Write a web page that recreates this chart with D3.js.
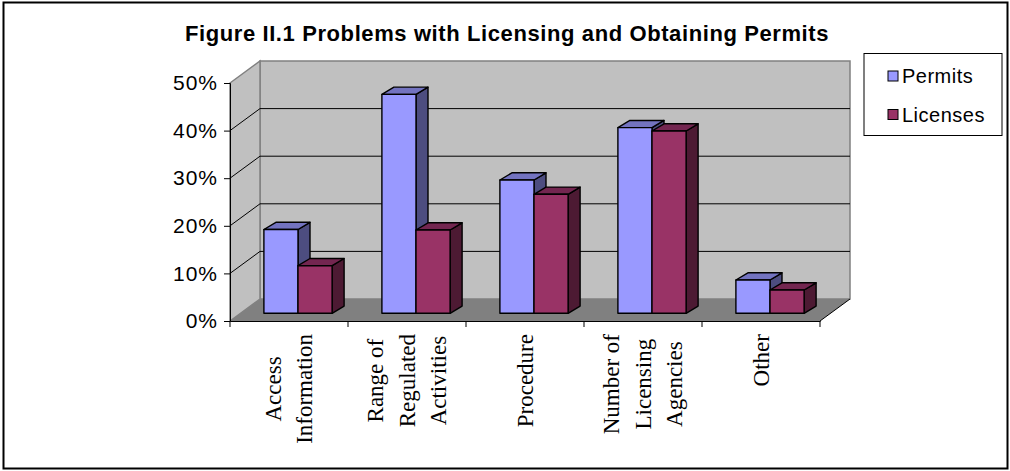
<!DOCTYPE html>
<html>
<head>
<meta charset="utf-8">
<script src="https://cdn.jsdelivr.net/npm/d3@7/dist/d3.min.js"></script>
<style>
  html, body { margin: 0; padding: 0; background: #fff; }
  svg { display: block; }
</style>
</head>
<body>
<svg id="chart" width="1010" height="471"></svg>
<script>
// ---- Data ----
const title = "Figure II.1 Problems with Licensing and Obtaining Permits";
const categories = ["Access Information", "Range of Regulated Activities", "Procedure", "Number of Licensing Agencies", "Other"];
const categoryLines = [["Access", "Information"], ["Range of", "Regulated", "Activities"], ["Procedure"], ["Number of", "Licensing", "Agencies"], ["Other"]];
const seriesNames = ["Permits", "Licenses"];
const permits = [0.176, 0.46, 0.28, 0.39, 0.07];
const licenses = [0.10, 0.175, 0.25, 0.383, 0.049];
const yTicks = [0, 0.1, 0.2, 0.3, 0.4, 0.5];

// ---- Layout ----
const svg = d3.select("#chart");
const plotLeft = 230, plotRight = 820, plotBase = 321, plotTop = 83;
const depthX = 30, depthY = -22;          // wall depth
const barOffX = 9, barOffY = -7.7;        // bar front plane offset
const barDX = 12, barDY = -7.2;           // bar depth

const x = d3.scaleBand().domain(categories).range([plotLeft, plotRight]);
const y = d3.scaleLinear().domain([0, 0.5]).range([plotBase, plotTop]);
const fmt = d3.format(".0%");

const colors = {
  Permits: { front: "#9999ff", side: "#4d4d80", top: "#7373c0" },
  Licenses: { front: "#993366", side: "#4d1a33", top: "#732650" }
};

// Outer frame
svg.append("rect").attr("x", 3.5).attr("y", 2.5).attr("width", 1004).attr("height", 466)
  .attr("fill", "#fff").attr("stroke", "#000").attr("stroke-width", 2);

// Title
svg.append("text").attr("x", 507).attr("y", 41).attr("text-anchor", "middle")
  .attr("font-family", "Liberation Sans, Arial, sans-serif").attr("font-weight", "bold")
  .attr("font-size", 22).attr("letter-spacing", "0.6px").attr("fill", "#000").text(title);

const pts = a => a.map(p => p.join(",")).join(" ");

// Back wall
svg.append("polygon")
  .attr("points", pts([[plotLeft + depthX, y(0.5) + depthY], [plotRight + depthX, y(0.5) + depthY], [plotRight + depthX, y(0) + depthY], [plotLeft + depthX, y(0) + depthY]]))
  .attr("fill", "#c0c0c0").attr("stroke", "#808080").attr("stroke-width", 1.5);
// Left wall
svg.append("polygon")
  .attr("points", pts([[plotLeft, y(0.5)], [plotLeft + depthX, y(0.5) + depthY], [plotLeft + depthX, y(0) + depthY], [plotLeft, y(0)]]))
  .attr("fill", "#c0c0c0").attr("stroke", "#808080").attr("stroke-width", 1.5);

// Gridlines
const grid = yTicks.filter(t => t > 0 && t < 0.5);
svg.append("g").selectAll("path").data(grid).join("path")
  .attr("d", t => `M${plotLeft},${y(t)}L${plotLeft + depthX},${y(t) + depthY}L${plotRight + depthX},${y(t) + depthY}`)
  .attr("fill", "none").attr("stroke", "#000").attr("stroke-width", 1);

// Floor
svg.append("polygon")
  .attr("points", pts([[plotLeft, y(0)], [plotLeft + depthX, y(0) + depthY], [plotRight + depthX, y(0) + depthY], [plotRight, y(0)]]))
  .attr("fill", "#808080").attr("stroke", "none");
svg.append("path").attr("d", `M${plotRight},${y(0)}L${plotRight + depthX},${y(0) + depthY}`)
  .attr("stroke", "#000").attr("stroke-width", 1);

// Bars
const barW = x.bandwidth() * 0.289;
const bars = [];
categories.forEach((c, i) => {
  const x0 = x(c) + (x.bandwidth() - 2 * barW) / 2;
  bars.push({ s: "Permits", v: permits[i], x0: x0 });
  bars.push({ s: "Licenses", v: licenses[i], x0: x0 + barW });
});
const bg = svg.append("g").attr("stroke", "#000").attr("stroke-width", 1.4).attr("stroke-linejoin", "round");
bars.forEach(b => {
  const fx0 = b.x0 + barOffX, fx1 = fx0 + barW;
  const fb = y(0) + barOffY, ft = y(b.v) + barOffY;
  const col = colors[b.s];
  bg.append("polygon").attr("points", pts([[fx1, ft], [fx1 + barDX, ft + barDY], [fx1 + barDX, fb + barDY], [fx1, fb]])).attr("fill", col.side);
  bg.append("polygon").attr("points", pts([[fx0, ft], [fx0 + barDX, ft + barDY], [fx1 + barDX, ft + barDY], [fx1, ft]])).attr("fill", col.top);
  bg.append("rect").attr("x", fx0).attr("y", ft).attr("width", barW).attr("height", fb - ft).attr("fill", col.front);
});

// Axes
const ya = d3.axisLeft(y).tickValues(yTicks).tickFormat(fmt).tickSize(6).tickPadding(6);
const yg = svg.append("g").attr("transform", `translate(${plotLeft},0)`).call(ya);
yg.select(".domain").attr("stroke", "#000");
yg.selectAll("text").attr("font-family", "Liberation Sans, Arial, sans-serif").attr("font-size", 21)
  .attr("letter-spacing", "1px").attr("fill", "#000");

const xa = d3.axisBottom(x).tickSize(0).tickFormat("");
const xg = svg.append("g").attr("transform", `translate(0,${plotBase})`).call(xa);
xg.select(".domain").attr("stroke", "#000");
const bounds = categories.map(c => x(c)).concat([plotRight]);
svg.append("g").selectAll("line").data(bounds).join("line")
  .attr("x1", d => d).attr("x2", d => d).attr("y1", plotBase).attr("y2", plotBase + 6)
  .attr("stroke", "#000").attr("stroke-width", 1);

// Category labels (rotated)
const labelTop = 334, lineH = 31.5;
categories.forEach((c, i) => {
  const lines = categoryLines[i];
  const cx = x(c) + x.bandwidth() / 2;
  const g = svg.append("g").attr("transform", `translate(${cx},${labelTop}) rotate(-90)`);
  const ts = lines.map((l, j) => g.append("text")
    .attr("font-family", "Liberation Serif, Times New Roman, serif").attr("font-size", 23)
    .attr("text-anchor", "middle").attr("fill", "#000")
    .attr("y", (j - (lines.length - 1) / 2) * lineH).attr("dy", "0.33em").text(l));
  const maxW = d3.max(ts, t => t.node().getComputedTextLength());
  ts.forEach(t => t.attr("x", -maxW / 2));
});

// Legend
const lg = svg.append("g");
lg.append("rect").attr("x", 864).attr("y", 53.5).attr("width", 138).attr("height", 82)
  .attr("fill", "#fff").attr("stroke", "#000").attr("stroke-width", 1);
seriesNames.forEach((s, i) => {
  const yy = 76 + i * 38.5;
  lg.append("rect").attr("x", 888).attr("y", yy - 5).attr("width", 10).attr("height", 10)
    .attr("fill", colors[s].front).attr("stroke", "#000").attr("stroke-width", 1);
  lg.append("text").attr("x", 902).attr("y", yy + 7).attr("font-family", "Liberation Sans, Arial, sans-serif")
    .attr("font-size", 20).attr("letter-spacing", "0.5px").attr("fill", "#000").text(s);
});
</script>
</body>
</html>
